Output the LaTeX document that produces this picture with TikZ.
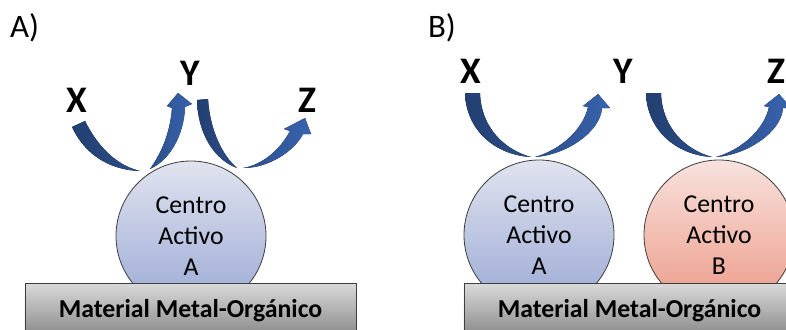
\documentclass[tikz,border=0pt]{standalone}
\usepackage{fontspec}
\setmainfont{Carlito}
\definecolor{armdark}{HTML}{223F70}
\definecolor{armmid}{HTML}{2C4F8C}
\definecolor{armlight}{HTML}{3863AE}
\definecolor{bluetop}{HTML}{E0E4EF}
\definecolor{bluebot}{HTML}{9AA8D4}
\definecolor{redtop}{HTML}{F8E2DE}
\definecolor{redbot}{HTML}{EC9A86}
\definecolor{slabtop}{HTML}{DADADA}
\definecolor{slabbot}{HTML}{858585}
\definecolor{edge}{HTML}{3F3F3F}

\begin{document}
\begin{tikzpicture}[
    x=0.03cm, y=-0.03cm,
    centro/.style={
        circle,
        draw=edge,
        line width=0.7pt,
        minimum size=4.5cm,
        inner sep=0pt,
        align=center,
        font=\fontsize{22}{26.5}\selectfont
    },
    bluecentro/.style={
        top color=bluetop,
        bottom color=bluebot
    },
    redcentro/.style={
        top color=redtop,
        bottom color=redbot
    },
    slab/.style={
        draw=edge,
        line width=0.7pt,
        top color=slabtop,
        bottom color=slabbot,
        minimum width=9.93cm,
        minimum height=1.68cm,
        font=\fontsize{22}{26}\selectfont\bfseries
    },
    letra/.style={
        anchor=base,
        font=\fontsize{32}{36}\selectfont\bfseries
    },
    panel/.style={
        anchor=base west,
        font=\fontsize{28}{32}\selectfont
    },
    armin/.style={left color=armdark, right color=armmid},
    armout/.style={left color=armmid, right color=armlight}
]
\clip (0,0) rectangle (786,329);

% Panel labels
\node[panel] (pa) at (6,37) {A)};
\node[panel] (pb) at (424,37) {B)};

% Species
\node[letra] (xa) at (77,112) {X};
\node[letra] (ya) at (190,85) {Y};
\node[letra] (za) at (307,112) {Z};
\node[letra] (xb) at (471,83) {X};
\node[letra] (yb) at (623,83) {Y};
\node[letra] (zb) at (776,83) {Z};

% A) X -> Y
\fill[armin] (72,127) .. controls (85,155) and (110,170) .. (140,171)
    .. controls (115,165) and (97,145) .. (85,121) -- cycle;
\fill[armout] (150,169) .. controls (170,160) and (184,135) .. (185,107)
    -- (192,104) -- (178,93) -- (167,106) -- (172,108)
    .. controls (170,135) and (160,155) .. (150,169) -- cycle;
% A) Y -> Z
\fill[armin] (197,100) .. controls (198,135) and (215,160) .. (237,168)
    .. controls (222,155) and (210,130) .. (208,99) -- cycle;
\fill[armout] (243,168) .. controls (270,168) and (295,150) .. (303,134)
    -- (311,134) -- (305,118) -- (284,129) -- (290,131)
    .. controls (280,150) and (262,165) .. (243,168) -- cycle;

% B) X -> Y and Y -> Z
\foreach \dx in {0,181} {
    \begin{scope}[shift={(\dx,0)}]
    \fill[armin] (465,93) .. controls (466,130) and (495,155) .. (531,157)
        .. controls (505,150) and (481,128) .. (480,93) -- cycle;
    \fill[armout] (535,157) .. controls (565,155) and (600,133) .. (602,108)
        -- (610,108) -- (598,94) -- (583,106) -- (588,107)
        .. controls (583,130) and (560,150) .. (535,157) -- cycle;
    \end{scope}
}

% Active centres
\node[centro, bluecentro] (ca) at (191,236) {Centro\\Activo\\A};
\node[centro, bluecentro] (cab) at (539,235) {Centro\\Activo\\A};
\node[centro, redcentro] (cbb) at (719,235) {Centro\\Activo\\B};

% Metal-organic support
\node[slab] (sa) at (190.5,311) {Material Metal-Orgánico};
\node[slab] (sb) at (629.5,311) {Material Metal-Orgánico};
\end{tikzpicture}
\end{document}
